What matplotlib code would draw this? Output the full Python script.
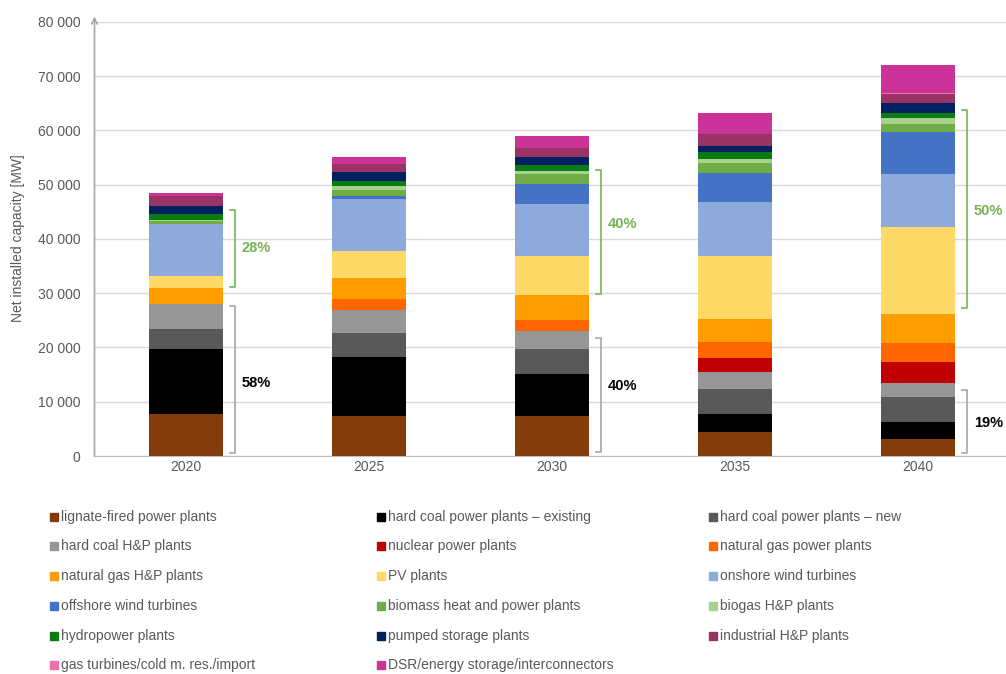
import numpy as np
import matplotlib.pyplot as plt
from matplotlib.patches import Rectangle
from matplotlib.ticker import FuncFormatter

plt.rcParams['font.family'] = ['Liberation Sans', 'DejaVu Sans']

# years on the x axis
years = ['2020', '2025', '2030', '2035', '2040']

# net installed capacity per technology [MW], bottom to top of each bar
lignite        = [7700, 7400, 7300, 4400, 3100]
hard_coal_old  = [12000, 10800, 7900, 3300, 3100]
hard_coal_new  = [3700, 4400, 4500, 4600, 4600]
hard_coal_hp   = [4600, 4300, 3400, 3100, 2600]
nuclear        = [0, 0, 0, 2700, 3900]
gas_power      = [0, 2100, 2000, 3000, 3500]
gas_hp         = [2900, 3800, 4500, 4200, 5300]
pv             = [2300, 5000, 7300, 11600, 16200]
wind_onshore   = [9500, 9500, 9600, 9900, 9700]
wind_offshore  = [0, 700, 3600, 5400, 7800]
biomass        = [700, 1000, 1800, 1800, 1400]
biogas         = [100, 700, 700, 800, 1100]
hydro          = [1200, 1000, 1000, 1200, 1000]
pumped         = [1300, 1600, 1600, 1200, 1700]
industrial_hp  = [1900, 1500, 1500, 2200, 1700]
gas_turbines   = [0, 0, 0, 0, 200]
dsr            = [600, 1400, 2200, 3900, 5200]

series = [
    ('lignate-fired power plants', lignite, '#843C0C'),
    ('hard coal power plants \u2013 existing', hard_coal_old, '#000000'),
    ('hard coal power plants \u2013 new', hard_coal_new, '#595959'),
    ('hard coal H&P plants', hard_coal_hp, '#969696'),
    ('nuclear power plants', nuclear, '#C00000'),
    ('natural gas power plants', gas_power, '#FF6600'),
    ('natural gas H&P plants', gas_hp, '#FF9C00'),
    ('PV plants', pv, '#FFD966'),
    ('onshore wind turbines', wind_onshore, '#8EA9DB'),
    ('offshore wind turbines', wind_offshore, '#4472C4'),
    ('biomass heat and power plants', biomass, '#70AD47'),
    ('biogas H&P plants', biogas, '#A9D18E'),
    ('hydropower plants', hydro, '#0A7A12'),
    ('pumped storage plants', pumped, '#002060'),
    ('industrial H&P plants', industrial_hp, '#993366'),
    ('gas turbines/cold m. res./import', gas_turbines, '#F06EAA'),
    ('DSR/energy storage/interconnectors', dsr, '#CC3399'),
]

# share brackets: (bar index, low, high, label, y of label, colour)
brackets = [
    (0, 31200, 45300, '28%', 38300, '#77B255'),
    (0, 500, 27600, '58%', 13500, '#A6A6A6'),
    (2, 29800, 52700, '40%', 42800, '#77B255'),
    (2, 800, 21700, '40%', 12900, '#A6A6A6'),
    (4, 27200, 63800, '50%', 45200, '#77B255'),
    (4, 600, 12200, '19%', 6100, '#A6A6A6'),
]

W, H = 1006, 674
fig = plt.figure(figsize=(W / 100, H / 100), dpi=100)
ax = fig.add_axes([94.5 / W, (H - 456) / H, 915 / W, 434 / H])

x = np.arange(len(years))
bottom = np.zeros(len(years))
for name, vals, col in series:
    ax.bar(x, vals, width=0.4, bottom=bottom, color=col, linewidth=0, zorder=3)
    bottom += np.array(vals)

ax.set_xlim(-0.5, 4.5)
ax.set_ylim(0, 80000)
ax.set_yticks(np.arange(0, 80001, 10000))
ax.yaxis.set_major_formatter(FuncFormatter(lambda v, p: f'{int(v):,}'.replace(',', ' ')))
ax.set_xticks(x)
ax.set_xticklabels(years)
ax.tick_params(axis='y', length=0, pad=10, labelsize=10, labelcolor='#595959')
ax.tick_params(axis='x', length=0, pad=3, labelsize=10, labelcolor='#595959')
ax.grid(axis='y', color='#D9D9D9', linewidth=1, zorder=0)

for s in ['top', 'right', 'left']:
    ax.spines[s].set_visible(False)
ax.spines['bottom'].set_color('#BFBFBF')

# y axis with arrow
ax.annotate('', xy=(-0.5, 81000), xytext=(-0.5, 0), xycoords='data',
            arrowprops=dict(arrowstyle='->', color='#A6A6A6', lw=1.2,
                            shrinkA=0, shrinkB=0), annotation_clip=False)

for i, lo, hi, lab, ly, col in brackets:
    bx = x[i] + 0.27
    ax.plot([bx - 0.028, bx, bx, bx - 0.028], [lo, lo, hi, hi], color=col,
            lw=1.2, clip_on=False, zorder=4)
    tcol = '#77B255' if col == '#77B255' else '#000000'
    ax.text(x[i] + 0.305, ly, lab, color=tcol, fontsize=10.5, fontweight='bold',
            va='center', ha='left')

fig.text(18 / W, 1 - 238 / H, 'Net installed capacity [MW]', rotation=90,
         ha='center', va='center', fontsize=10, color='#595959')

# legend, filled row by row
col_x = [50, 377, 709]
row_y = [517, 546, 576, 606, 636, 665]
for k, (name, vals, col) in enumerate(series):
    cx = col_x[k % 3]
    cy = row_y[k // 3]
    fig.patches.append(Rectangle((cx / W, 1 - (cy + 4) / H), 8 / W, 8 / H,
                                 transform=fig.transFigure, color=col))
    fig.text((cx + 11) / W, 1 - cy / H, name, ha='left', va='center',
             fontsize=10, color='#595959')

fig.savefig('out.png', dpi=100)
